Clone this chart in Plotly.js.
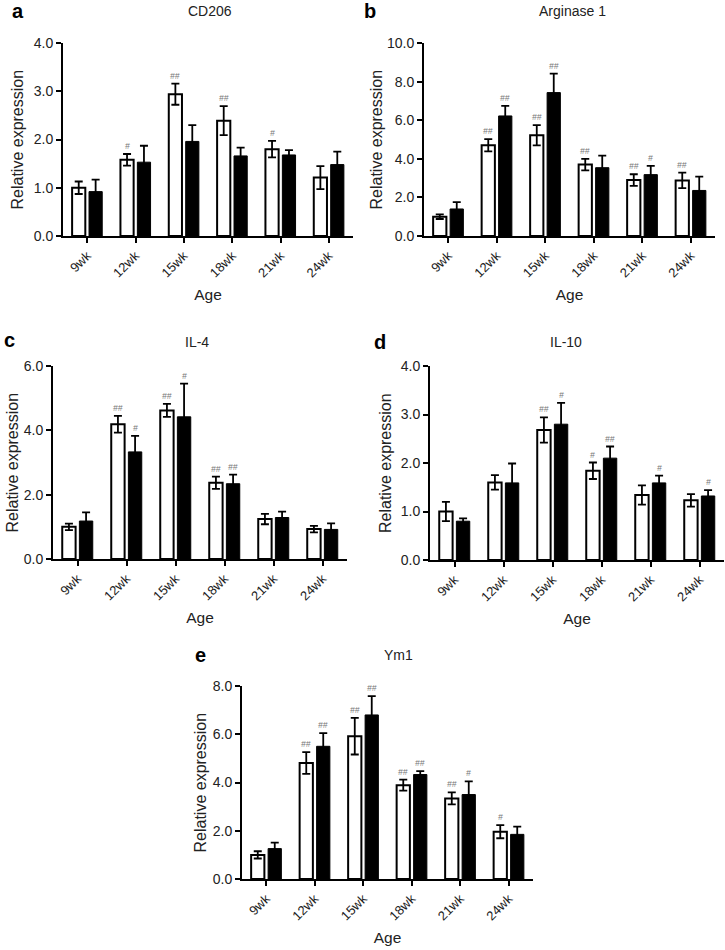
<!DOCTYPE html>
<html>
<head>
<meta charset="utf-8">
<script src="https://cdn.plot.ly/plotly-3.0.1.min.js"></script>
<style>html,body{margin:0;padding:0;background:#fff;}#chart{width:725px;height:950px;}</style>
</head>
<body>
<div id="chart"></div>
<script>
// ---------- DATA ----------
const ages = ['9wk', '12wk', '15wk', '18wk', '21wk', '24wk'];

const cd206_white = [1.00, 1.58, 2.94, 2.39, 1.80, 1.21];
const cd206_white_err = [0.13, 0.12, 0.22, 0.30, 0.17, 0.24];
const cd206_black = [0.92, 1.53, 1.96, 1.66, 1.68, 1.48];
const cd206_black_err = [0.25, 0.34, 0.34, 0.17, 0.10, 0.27];
const cd206_white_sig = ['', '#', '##', '##', '#', ''];
const cd206_black_sig = ['', '', '', '', '', ''];

const arg1_white = [1.00, 4.70, 5.22, 3.70, 2.90, 2.88];
const arg1_white_err = [0.12, 0.32, 0.52, 0.30, 0.30, 0.40];
const arg1_black = [1.40, 6.22, 7.43, 3.54, 3.18, 2.36];
const arg1_black_err = [0.36, 0.52, 0.98, 0.62, 0.45, 0.72];
const arg1_white_sig = ['', '##', '##', '##', '##', '##'];
const arg1_black_sig = ['', '##', '##', '', '#', ''];

const il4_white = [1.00, 4.19, 4.62, 2.37, 1.24, 0.93];
const il4_white_err = [0.10, 0.26, 0.20, 0.19, 0.16, 0.10];
const il4_black = [1.18, 3.33, 4.42, 2.34, 1.29, 0.92];
const il4_black_err = [0.27, 0.50, 1.03, 0.28, 0.18, 0.19];
const il4_white_sig = ['', '##', '##', '##', '', ''];
const il4_black_sig = ['', '#', '#', '##', '', ''];

const il10_white = [1.00, 1.60, 2.68, 1.84, 1.34, 1.23];
const il10_white_err = [0.20, 0.15, 0.26, 0.17, 0.20, 0.13];
const il10_black = [0.80, 1.59, 2.80, 2.10, 1.59, 1.32];
const il10_black_err = [0.06, 0.40, 0.44, 0.24, 0.15, 0.12];
const il10_white_sig = ['', '', '##', '#', '', ''];
const il10_black_sig = ['', '', '#', '##', '#', '#'];

const ym1_white = [1.00, 4.81, 5.92, 3.89, 3.34, 1.96];
const ym1_white_err = [0.15, 0.45, 0.76, 0.23, 0.25, 0.27];
const ym1_black = [1.26, 5.50, 6.80, 4.33, 3.50, 1.85];
const ym1_black_err = [0.25, 0.55, 0.78, 0.14, 0.55, 0.32];
const ym1_white_sig = ['', '##', '##', '##', '##', '#'];
const ym1_black_sig = ['', '##', '##', '##', '#', ''];

const panelTitles = ['CD206', 'Arginase 1', 'IL-4', 'IL-10', 'Ym1'];
const panelLetters = ['a', 'b', 'c', 'd', 'e'];
const yAxisTitle = 'Relative expression';
const xAxisTitle = 'Age';

// ---------- LAYOUT HELPERS ----------
const W = 725, H = 950;
const FONT = '"Liberation Sans", Arial, Helvetica, sans-serif';
const px = v => v / W;
const py = v => 1 - v / H;

const panels = [
  {w: cd206_white, we: cd206_white_err, b: cd206_black, be: cd206_black_err, ws: cd206_white_sig, bs: cd206_black_sig,
   ymax: 4, dtick: 1, x0: 63, x1: 353, yTop: 43, yBot: 236, titleX: 210, titleY: 11, letX: 18, letY: 11, ytX: 17},
  {w: arg1_white, we: arg1_white_err, b: arg1_black, be: arg1_black_err, ws: arg1_white_sig, bs: arg1_black_sig,
   ymax: 10, dtick: 2, x0: 424, x1: 715, yTop: 43, yBot: 236, titleX: 572, titleY: 11, letX: 370, letY: 11, ytX: 376},
  {w: il4_white, we: il4_white_err, b: il4_black, be: il4_black_err, ws: il4_white_sig, bs: il4_black_sig,
   ymax: 6, dtick: 2, x0: 53, x1: 347, yTop: 366, yBot: 559, titleX: 197, titleY: 342, letX: 9, letY: 340, ytX: 12},
  {w: il10_white, we: il10_white_err, b: il10_black, be: il10_black_err, ws: il10_white_sig, bs: il10_black_sig,
   ymax: 4, dtick: 1, x0: 430, x1: 724, yTop: 366, yBot: 560, titleX: 566, titleY: 342, letX: 380, letY: 342, ytX: 385},
  {w: ym1_white, we: ym1_white_err, b: ym1_black, be: ym1_black_err, ws: ym1_white_sig, bs: ym1_black_sig,
   ymax: 8, dtick: 2, x0: 242, x1: 533, yTop: 686, yBot: 879, titleX: 398, titleY: 655, letX: 200, letY: 655, ytX: 200}
];

const traces = [];
const annotations = [];
const layout = {
  width: W, height: H,
  margin: {l: 0, r: 0, t: 0, b: 0},
  paper_bgcolor: '#fff', plot_bgcolor: '#fff',
  showlegend: false,
  barmode: 'group',
  bargap: 0.3,
  bargroupgap: 0.22,
  font: {family: FONT, color: '#1a1a1a', size: 12},
  annotations: annotations
};

const HALF = 0.175; // offset of each bar centre from category centre (from bargap/bargroupgap)

panels.forEach((p, i) => {
  const n = i + 1;
  const xa = n === 1 ? 'x' : 'x' + n;
  const ya = n === 1 ? 'y' : 'y' + n;
  const xKey = n === 1 ? 'xaxis' : 'xaxis' + n;
  const yKey = n === 1 ? 'yaxis' : 'yaxis' + n;

  traces.push({
    type: 'bar', x: ages, y: p.w, xaxis: xa, yaxis: ya,
    marker: {color: '#ffffff', line: {color: '#000', width: 2}},
    error_y: {type: 'data', array: p.we, visible: true, color: '#000', thickness: 1.8, width: 4}
  });
  traces.push({
    type: 'bar', x: ages, y: p.b, xaxis: xa, yaxis: ya,
    marker: {color: '#000000', line: {color: '#000', width: 1}},
    error_y: {type: 'data', array: p.be, visible: true, color: '#000', thickness: 1.8, width: 4}
  });

  layout[xKey] = {
    domain: [px(p.x0), px(p.x1)], anchor: ya, type: 'category',
    range: [-0.5, 5.5], fixedrange: true,
    showline: true, linewidth: 2, linecolor: '#000',
    ticks: 'outside', ticklen: 5, tickwidth: 2, tickcolor: '#000',
    tickangle: -45, tickfont: {size: 13, family: FONT, color: '#222'},
    showgrid: false, zeroline: false,
    title: {text: xAxisTitle, font: {size: 15.5, family: FONT, color: '#222'}, standoff: 10}
  };
  layout[yKey] = {
    domain: [py(p.yBot), py(p.yTop)], anchor: xa,
    range: [0, p.ymax], dtick: p.dtick, tick0: 0, tickformat: '.1f', fixedrange: true,
    showline: true, linewidth: 2, linecolor: '#000',
    ticks: 'outside', ticklen: 5, tickwidth: 2, tickcolor: '#000',
    tickfont: {size: 14, family: FONT, color: '#222'},
    showgrid: false, zeroline: false
  };

  // y-axis title as annotation for exact placement
  annotations.push({
    xref: 'paper', yref: 'paper', x: px(p.ytX), y: py((p.yTop + p.yBot) / 2),
    text: yAxisTitle, textangle: -90, showarrow: false,
    xanchor: 'center', yanchor: 'middle',
    font: {size: 16, family: FONT, color: '#222'}
  });
  // panel title
  annotations.push({
    xref: 'paper', yref: 'paper', x: px(p.titleX), y: py(p.titleY),
    text: panelTitles[i], showarrow: false, xanchor: 'center', yanchor: 'middle',
    font: {size: 14, family: FONT, color: '#222'}
  });
  // panel letter
  annotations.push({
    xref: 'paper', yref: 'paper', x: px(p.letX), y: py(p.letY),
    text: '<b>' + panelLetters[i] + '</b>', showarrow: false, xanchor: 'center', yanchor: 'middle',
    font: {size: 20, family: FONT, color: '#000'}
  });
  // significance marks
  ages.forEach((a, k) => {
    if (p.ws[k]) annotations.push({
      xref: xa, yref: ya, x: k - HALF, y: p.w[k] + p.we[k], text: '<i>' + p.ws[k] + '</i>',
      showarrow: false, xanchor: 'center', yanchor: 'bottom', yshift: 1,
      font: {size: 8.5, family: FONT, color: '#777'}
    });
    if (p.bs[k]) annotations.push({
      xref: xa, yref: ya, x: k + HALF, y: p.b[k] + p.be[k], text: '<i>' + p.bs[k] + '</i>',
      showarrow: false, xanchor: 'center', yanchor: 'bottom', yshift: 1,
      font: {size: 8.5, family: FONT, color: '#777'}
    });
  });
});

Plotly.newPlot('chart', traces, layout, {staticPlot: true, displayModeBar: false});
</script>
</body>
</html>
